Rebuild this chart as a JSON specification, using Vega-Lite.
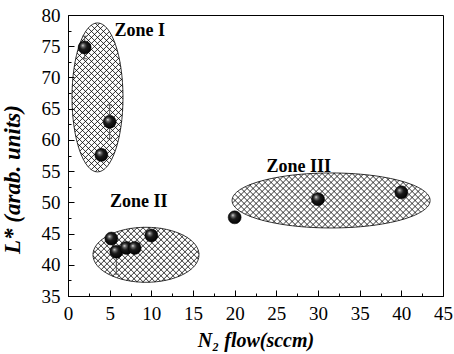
{
  "$schema": "https://vega.github.io/schema/vega-lite/v6.json",
  "autosize": {"type": "none"},
  "width": 375,
  "height": 281,
  "padding": {"left": 68, "top": 15, "right": 11, "bottom": 58},
  "background": "white",
  "config": {
    "view": {"stroke": "black", "strokeWidth": 1},
    "axis": {
      "grid": false,
      "domainColor": "black",
      "tickColor": "black",
      "labelColor": "black",
      "titleColor": "black",
      "labelFont": "Liberation Serif",
      "labelFontSize": 19,
      "titleFont": "Liberation Serif",
      "titleFontSize": 20,
      "titleFontWeight": "bold",
      "titleFontStyle": "italic",
      "labelFlush": false,
      "labelOverlap": false
    }
  },
  "datasets": {
    "pts": [
      {"flow": 2.0, "L": 74.8, "lo": 73.0, "hi": 76.6},
      {"flow": 5.0, "L": 62.9, "lo": 60.2, "hi": 65.6},
      {"flow": 4.0, "L": 57.6},
      {"flow": 5.2, "L": 44.2},
      {"flow": 5.8, "L": 42.1, "lo": 38.5, "hi": 42.1},
      {"flow": 7.0, "L": 42.7},
      {"flow": 8.0, "L": 42.7},
      {"flow": 10.0, "L": 44.7},
      {"flow": 20.0, "L": 47.6},
      {"flow": 30.0, "L": 50.5},
      {"flow": 40.0, "L": 51.6}
    ],
    "zones": [
      {"zone": "Zone I", "cx": 3.54, "cy": 66.8, "lx": 8.6, "ly": 77.4},
      {"zone": "Zone II", "cx": 9.36, "cy": 41.6, "lx": 8.5, "ly": 50.0},
      {"zone": "Zone III", "cx": 31.57, "cy": 50.3, "lx": 27.7, "ly": 55.7}
    ]
  },
  "layer": [
    {
      "data": {"name": "zones"},
      "mark": {"type": "point", "filled": false, "stroke": "black", "strokeWidth": 0.8, "size": 4, "opacity": 1},
      "encoding": {
        "x": {"field": "cx", "type": "quantitative", "scale": {"domain": [0, 45], "nice": false, "zero": false},
          "axis": {"values": [0,2.5,5,7.5,10,12.5,15,17.5,20,22.5,25,27.5,30,32.5,35,37.5,40,42.5,45],
            "tickCount": 100, "format": "d",
            "labelExpr": "datum.value % 5 === 0 ? datum.label : ''",
            "labelOverlap": false,
            "tickSize": {"condition": {"test": "datum.value % 5 !== 0", "value": -3}, "value": -6},
            "labelPadding": 14, "title": "N₂ flow(sccm)", "titlePadding": 4}},
        "y": {"field": "cy", "type": "quantitative", "scale": {"domain": [35, 80], "nice": false, "zero": false},
          "axis": {"values": [35,37.5,40,42.5,45,47.5,50,52.5,55,57.5,60,62.5,65,67.5,70,72.5,75,77.5,80],
            "tickCount": 100, "format": "d",
            "labelExpr": "datum.value % 5 === 0 ? datum.label : ''",
            "labelOverlap": false,
            "tickSize": {"condition": {"test": "datum.value % 5 !== 0", "value": -3}, "value": -6},
            "labelPadding": 14, "title": "L* (arab. units)", "titleFontSize": 23, "titlePadding": 17, "titleY": 164}},
        "shape": {"field": "zone", "type": "nominal", "legend": null,
          "scale": {"domain": ["Zone I", "Zone II", "Zone III"],
            "range": [
              "M -25.5 0 A 25.5 74.5 0 1 0 25.5 0 A 25.5 74.5 0 1 0 -25.5 0 Z M 24.1 24.1 L -24.1 -24.1 M -24.1 24.1 L 24.1 -24.1 M 24.7 18.7 L -23.4 -29.4 M -24.7 -18.7 L 23.4 29.4 M -24.7 18.7 L 23.4 -29.4 M 24.7 -18.7 L -23.4 29.4 M 25.1 13.1 L -22.6 -34.6 M -25.1 -13.1 L 22.6 34.6 M -25.1 13.1 L 22.6 -34.6 M 25.1 -13.1 L -22.6 34.6 M 25.4 7.4 L -21.6 -39.6 M -25.4 -7.4 L 21.6 39.6 M -25.4 7.4 L 21.6 -39.6 M 25.4 -7.4 L -21.6 39.6 M 25.5 1.5 L -20.5 -44.5 M -25.5 -1.5 L 20.5 44.5 M -25.5 1.5 L 20.5 -44.5 M 25.5 -1.5 L -20.5 44.5 M 25.5 -4.6 L -19.2 -49.2 M -25.5 4.6 L 19.2 49.2 M -25.5 -4.6 L 19.2 -49.2 M 25.5 4.6 L -19.2 49.2 M 25.2 -10.8 L -17.7 -53.7 M -25.2 10.8 L 17.7 53.7 M -25.2 -10.8 L 17.7 -53.7 M 25.2 10.8 L -17.7 53.7 M 24.8 -17.2 L -16 -58 M -24.8 17.2 L 16 58 M -24.8 -17.2 L 16 -58 M 24.8 17.2 L -16 58 M 24.2 -23.8 L -14.1 -62.1 M -24.2 23.8 L 14.1 62.1 M -24.2 -23.8 L 14.1 -62.1 M 24.2 23.8 L -14.1 62.1 M 23.2 -30.8 L -11.9 -65.9 M -23.2 30.8 L 11.9 65.9 M -23.2 -30.8 L 11.9 -65.9 M 23.2 30.8 L -11.9 65.9 M 21.9 -38.1 L -9.3 -69.3 M -21.9 38.1 L 9.3 69.3 M -21.9 -38.1 L 9.3 -69.3 M 21.9 38.1 L -9.3 69.3 M 20.1 -45.9 L -6.2 -72.2 M -20.1 45.9 L 6.2 72.2 M -20.1 -45.9 L 6.2 -72.2 M 20.1 45.9 L -6.2 72.2 M 17.3 -54.7 L -2.2 -74.2 M -17.3 54.7 L 2.2 74.2 M -17.3 -54.7 L 2.2 -74.2 M 17.3 54.7 L -2.2 74.2",
              "M -53 0 A 53 27.5 0 1 0 53 0 A 53 27.5 0 1 0 -53 0 Z M 24.4 24.4 L -24.4 -24.4 M -24.4 24.4 L 24.4 -24.4 M 29 23 L -19.6 -25.6 M -29 -23 L 19.6 25.6 M -29 23 L 19.6 -25.6 M 29 -23 L -19.6 25.6 M 33.4 21.4 L -14.5 -26.5 M -33.4 -21.4 L 14.5 26.5 M -33.4 21.4 L 14.5 -26.5 M 33.4 -21.4 L -14.5 26.5 M 37.5 19.5 L -9.1 -27.1 M -37.5 -19.5 L 9.1 27.1 M -37.5 19.5 L 9.1 -27.1 M 37.5 -19.5 L -9.1 27.1 M 41.3 17.3 L -3.4 -27.4 M -41.3 -17.3 L 3.4 27.4 M -41.3 17.3 L 3.4 -27.4 M 41.3 -17.3 L -3.4 27.4 M 44.8 14.8 L 2.5 -27.5 M -44.8 -14.8 L -2.5 27.5 M -44.8 14.8 L -2.5 -27.5 M 44.8 -14.8 L 2.5 27.5 M 47.8 11.8 L 8.9 -27.1 M -47.8 -11.8 L -8.9 27.1 M -47.8 11.8 L -8.9 -27.1 M 47.8 -11.8 L 8.9 27.1 M 50.4 8.4 L 15.7 -26.3 M -50.4 -8.4 L -15.7 26.3 M -50.4 8.4 L -15.7 -26.3 M 50.4 -8.4 L 15.7 26.3 M 52.3 4.3 L 23.3 -24.7 M -52.3 -4.3 L -23.3 24.7 M -52.3 4.3 L -23.3 -24.7 M 52.3 -4.3 L 23.3 24.7 M 53 -1 L 32.1 -21.9 M -53 1 L -32.1 21.9 M -53 -1 L -32.1 -21.9 M 53 1 L 32.1 21.9",
              "M -99 0 A 99 27.5 0 1 0 99 0 A 99 27.5 0 1 0 -99 0 Z M 26.5 26.5 L -26.5 -26.5 M -26.5 26.5 L 26.5 -26.5 M 32 26 L -20.9 -26.9 M -32 -26 L 20.9 26.9 M -32 26 L 20.9 -26.9 M 32 -26 L -20.9 26.9 M 37.5 25.5 L -15.2 -27.2 M -37.5 -25.5 L 15.2 27.2 M -37.5 25.5 L 15.2 -27.2 M 37.5 -25.5 L -15.2 27.2 M 42.8 24.8 L -9.4 -27.4 M -42.8 -24.8 L 9.4 27.4 M -42.8 24.8 L 9.4 -27.4 M 42.8 -24.8 L -9.4 27.4 M 48 24 L -3.5 -27.5 M -48 -24 L 3.5 27.5 M -48 24 L 3.5 -27.5 M 48 -24 L -3.5 27.5 M 53.2 23.2 L 2.5 -27.5 M -53.2 -23.2 L -2.5 27.5 M -53.2 23.2 L -2.5 -27.5 M 53.2 -23.2 L 2.5 27.5 M 58.2 22.2 L 8.6 -27.4 M -58.2 -22.2 L -8.6 27.4 M -58.2 22.2 L -8.6 -27.4 M 58.2 -22.2 L 8.6 27.4 M 63.2 21.2 L 14.8 -27.2 M -63.2 -21.2 L -14.8 27.2 M -63.2 21.2 L -14.8 -27.2 M 63.2 -21.2 L 14.8 27.2 M 68 20 L 21.1 -26.9 M -68 -20 L -21.1 26.9 M -68 20 L -21.1 -26.9 M 68 -20 L 21.1 26.9 M 72.7 18.7 L 27.6 -26.4 M -72.7 -18.7 L -27.6 26.4 M -72.7 18.7 L -27.6 -26.4 M 72.7 -18.7 L 27.6 26.4 M 77.2 17.2 L 34.2 -25.8 M -77.2 -17.2 L -34.2 25.8 M -77.2 17.2 L -34.2 -25.8 M 77.2 -17.2 L 34.2 25.8 M 81.6 15.6 L 41 -25 M -81.6 -15.6 L -41 25 M -81.6 15.6 L -41 -25 M 81.6 -15.6 L 41 25 M 85.7 13.7 L 47.9 -24.1 M -85.7 -13.7 L -47.9 24.1 M -85.7 13.7 L -47.9 -24.1 M 85.7 -13.7 L 47.9 24.1 M 89.7 11.7 L 55.2 -22.8 M -89.7 -11.7 L -55.2 22.8 M -89.7 11.7 L -55.2 -22.8 M 89.7 -11.7 L 55.2 22.8 M 93.2 9.2 L 62.7 -21.3 M -93.2 -9.2 L -62.7 21.3 M -93.2 9.2 L -62.7 -21.3 M 93.2 -9.2 L 62.7 21.3 M 96.3 6.3 L 70.8 -19.2 M -96.3 -6.3 L -70.8 19.2 M -96.3 6.3 L -70.8 -19.2 M 96.3 -6.3 L 70.8 19.2 M 98.6 2.6 L 79.7 -16.3 M -98.6 -2.6 L -79.7 16.3 M -98.6 2.6 L -79.7 -16.3 M 98.6 -2.6 L 79.7 16.3"
            ]}}
      }
    },
    {
      "data": {"name": "zones"},
      "mark": {"type": "text", "font": "Liberation Serif", "fontWeight": "bold", "fontSize": 18, "color": "black", "align": "center", "baseline": "middle"},
      "encoding": {
        "x": {"field": "lx", "type": "quantitative"},
        "y": {"field": "ly", "type": "quantitative"},
        "text": {"field": "zone"}
      }
    },
    {
      "data": {"name": "pts"},
      "transform": [{"filter": "datum.lo != null"}],
      "mark": {"type": "rule", "color": "#555555", "strokeWidth": 1, "opacity": 1},
      "encoding": {
        "x": {"field": "flow", "type": "quantitative"},
        "y": {"field": "lo", "type": "quantitative"},
        "y2": {"field": "hi"}
      }
    },
    {
      "data": {"name": "pts"},
      "transform": [{"filter": "datum.lo != null"}, {"fold": ["lo", "hi"], "as": ["end", "val"]}],
      "mark": {"type": "tick", "orient": "horizontal", "color": "#555555", "size": 5, "thickness": 1, "opacity": 1},
      "encoding": {
        "x": {"field": "flow", "type": "quantitative"},
        "y": {"field": "val", "type": "quantitative"}
      }
    },
    {
      "data": {"name": "pts"},
      "mark": {"type": "point", "filled": true, "opacity": 1, "size": 170, "stroke": "#000000", "strokeWidth": 0.5,
        "fill": {"gradient": "radial", "x1": 0.35, "y1": 0.33, "r1": 0, "x2": 0.45, "y2": 0.45, "r2": 0.6,
          "stops": [{"offset": 0, "color": "#f2f2f2"}, {"offset": 0.18, "color": "#707070"}, {"offset": 0.45, "color": "#1a1a1a"}, {"offset": 1, "color": "#000000"}]}},
      "encoding": {
        "x": {"field": "flow", "type": "quantitative"},
        "y": {"field": "L", "type": "quantitative"}
      }
    }
  ]
}
